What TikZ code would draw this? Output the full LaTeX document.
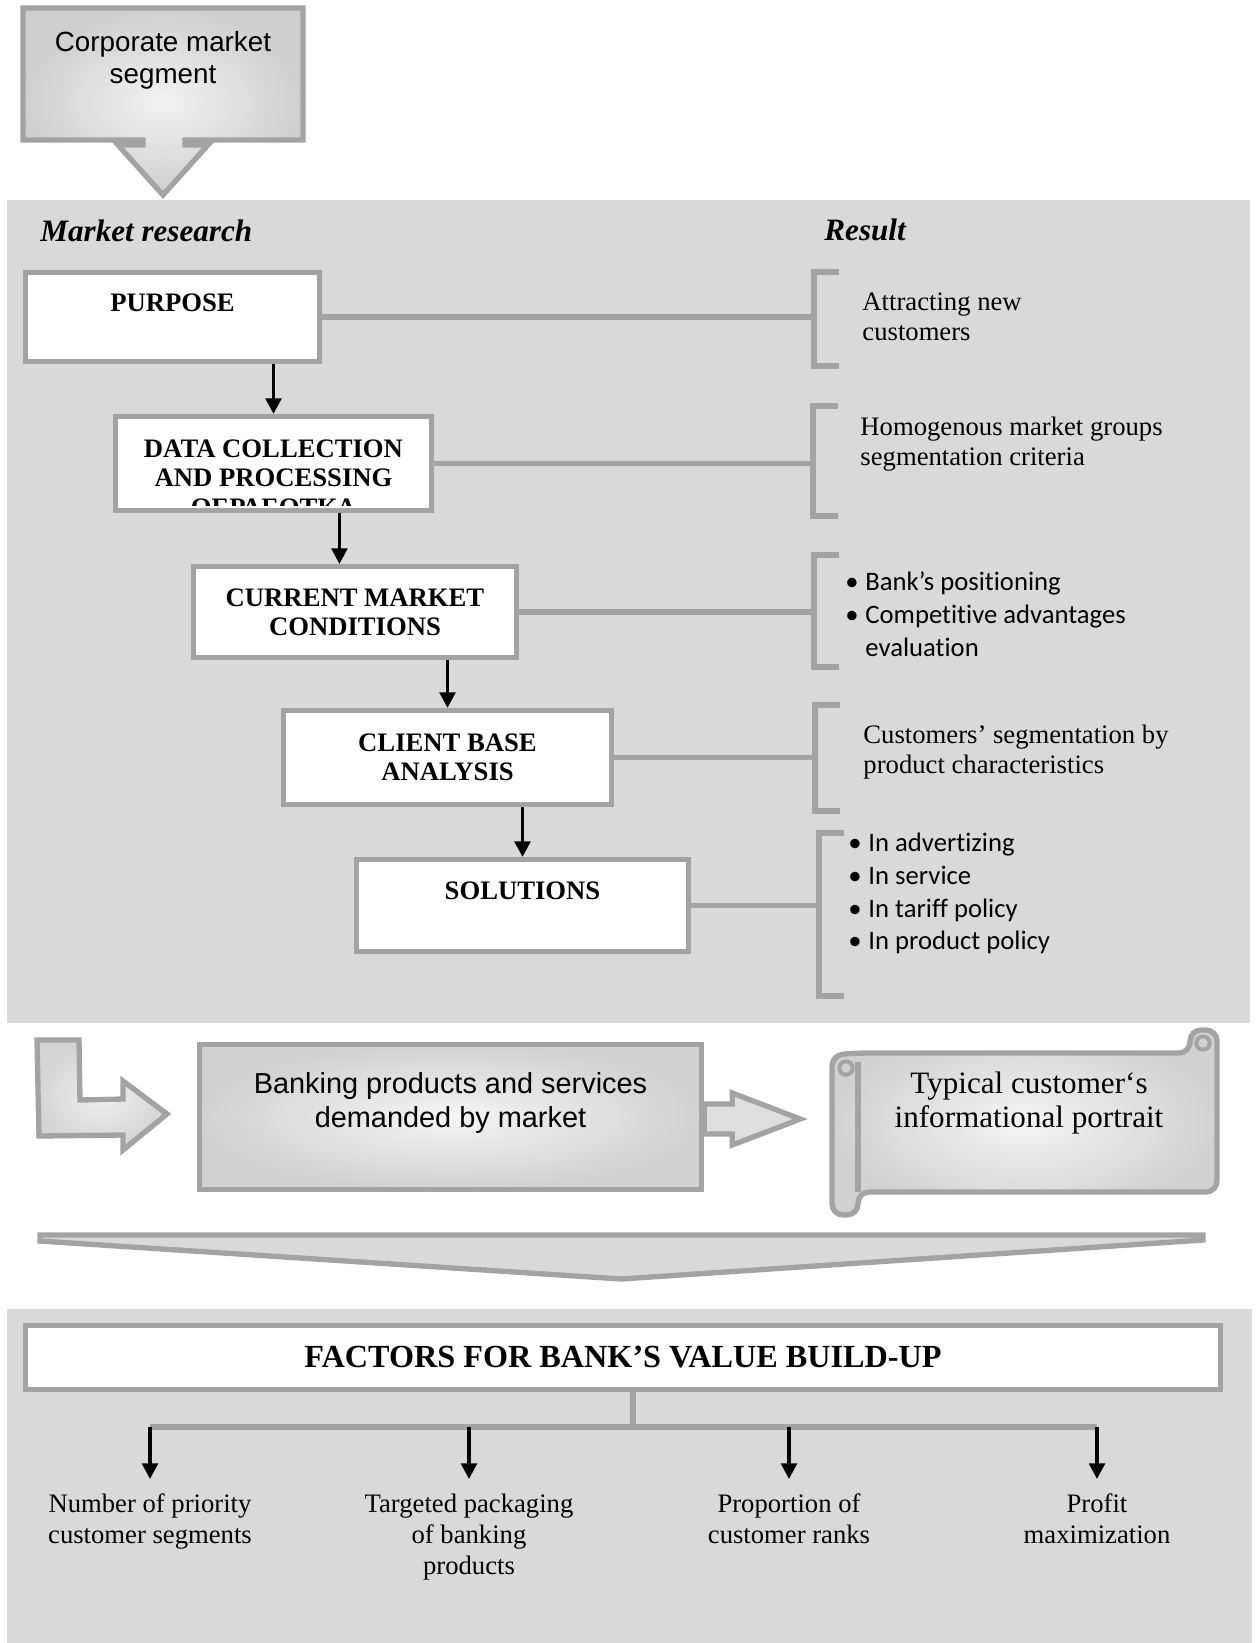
\documentclass[tikz,border=0pt]{standalone}
\usepackage{fontspec}
\setmainfont{Liberation Serif}
\newfontfamily\arialfont{Liberation Sans}
\newfontfamily\calibrifont[Ligatures=NoCommon]{Carlito}
\usetikzlibrary{
  arrows.meta,
  calc
}
\definecolor{panelgray}{gray}{0.85}
\definecolor{edgegray}{gray}{0.64}
\newcommand{\bulletitem}{\makebox[9pt][l]{•}}

\begin{document}
\begin{tikzpicture}[x=0.45pt, y=-0.45pt,
    stepbox/.style={draw=edgegray, line width=2.4pt, fill=white, align=center,
        inner sep=0pt, font=\fontsize{12}{13}\selectfont\bfseries},
    link/.style={draw=edgegray, line width=2.4pt},
    shapeline/.style={draw=edgegray, line width=2.4pt, line join=miter},
    flow/.style={-{Triangle[length=7pt,width=7pt]}, line width=1.6pt},
    heading/.style={anchor=west, inner sep=0pt,
        font=\fontsize{14}{16}\selectfont\bfseries\itshape},
    result/.style={anchor=west, align=left, inner sep=0pt,
        font=\fontsize{12}{13.5}\selectfont},
    bullets/.style={anchor=west, align=left, inner sep=0pt,
        font=\calibrifont\fontsize{12}{14.8}\selectfont},
    factor/.style={anchor=north, align=center, inner sep=6.5pt,
        font=\fontsize{12}{14}\selectfont}]
  \useasboundingbox (0,0) rectangle (1257,1643);

  % grey panels
  \fill[panelgray] (7,200) rectangle (1250,1023);
  \fill[panelgray] (7,1309) rectangle (1252,1643);

  % corporate market segment
  \path[shapeline, inner color=black!5, outer color=black!19]
  (23,8) -- (303,8) -- (303,140) -- (185,140) -- (185,145) -- (208,145)
  -- (163,195) -- (118,145) -- (143,145) -- (143,140) -- (23,140) -- cycle;
  \node[align=center, font=\arialfont\fontsize{12.5}{14.4}\selectfont] (corp)
  at (163,60) {Corporate market\\segment};

  \node[heading] (research) at (40,231) {Market research};
  \node[heading] (result) at (824,230) {Result};

  % research steps
  \node[stepbox, minimum width=132.2pt, minimum height=39.9pt] (purpose)
  at (172.5,317) {PURPOSE\\~};
  \node[stepbox, minimum width=142.1pt, minimum height=42.2pt] (data)
  at (273.5,463.5) {DATA COLLECTION\\AND PROCESSING};
  \begin{scope}
    \clip (116,417) rectangle (431,505);
    \node[anchor=base, font=\fontsize{12}{13}\selectfont\bfseries] (datacut)
    at (273.5,516) {ОБРАБОТКА};
  \end{scope}
  \node[stepbox, minimum width=145.2pt, minimum height=40.8pt] (current)
  at (355,612) {CURRENT MARKET\\CONDITIONS};
  \node[stepbox, minimum width=147.5pt, minimum height=42.2pt] (client)
  at (447.5,757.5) {CLIENT BASE\\ANALYSIS};
  \node[stepbox, minimum width=149.3pt, minimum height=41.3pt] (solutions)
  at (522.5,905.5) {SOLUTIONS\\~};

  \coordinate (a2) at ([xshift=-7pt]current.north);
  \draw[flow] (data.north |- purpose.south) -- (data.north);
  \draw[flow] (a2 |- data.south) -- (a2);
  \draw[flow] (client.north |- current.south) -- (client.north);
  \draw[flow] (solutions.north |- client.south) -- (solutions.north);

  % brackets of the results
  \foreach \n/\x/\t/\b in {1/814/272/366, 2/813/406/516, 3/814/555/667,
      4/815/705/811, 5/819/833/996} {
      \draw[link] (\x+25,\t) -| (\x,\b) -- ++(25,0);
      \coordinate (br\n) at (\x,\t);
    }
  \foreach \stage/\n in {purpose/1, data/2, current/3, client/4, solutions/5} {
      \draw[link] (\stage.east) -- (\stage.east -| br\n);
    }

  \node[result] (res1) at (862,317) {Attracting new\\customers};
  \node[result] (res2) at (860,444) {Homogenous market groups\\segmentation criteria};
  \node[bullets] (res3) at (845,614.5) {\bulletitem Bank’s positioning\\
    \bulletitem Competitive advantages\\\hspace*{9pt}evaluation};
  \node[result] (res4) at (863,752) {Customers’ segmentation by\\product characteristics};
  \node[bullets] (res5) at (848,893.5) {\bulletitem In advertizing\\
    \bulletitem In service\\\bulletitem In tariff policy\\\bulletitem In product policy};

  % products, portrait
  \path[shapeline, inner color=black!6, outer color=black!17]
  (37,1040) -- (79,1040) -- (80,1100) -- (123,1099) -- (123,1081) -- (167,1114)
  -- (123,1150) -- (123,1135) -- (39,1136) -- cycle;

  \node[draw=edgegray, line width=2.4pt, inner color=black!4, outer color=black!18,
    minimum width=226pt, minimum height=65pt, align=center,
    font=\arialfont\fontsize{13}{15.3}\selectfont] (banking)
  at (450.5,1117) {Banking products and services\\demanded by market\\~};

  \coordinate (bk) at ($(banking.east)+(0,2)$);
  \path[shapeline, fill=black!13] (bk) ++(0,-15) -- ++(28,0) -- ++(0,-11)
  -- ++(68,26) -- ++(-68,26) -- ++(0,-11) -- ++(-28,0) -- cycle;

  \path[shapeline, inner color=black!4, outer color=black!18, rounded corners=5pt]
  (858,1053) -- (1190,1053) -- (1190,1030) -- (1217,1030) -- (1217,1192)
  -- (858,1192) -- (858,1215) -- (832,1215) -- (832,1055) -- cycle;
  \draw[shapeline] (858,1062) -- (858,1192);
  \draw[shapeline, line width=1.8pt] (846,1068) circle[radius=3pt];
  \draw[shapeline, line width=1.8pt] (1203,1043) circle[radius=3pt];
  \node[align=center, font=\fontsize{14}{15.5}\selectfont] (portrait)
  at (1029,1103) {Typical customer‘s\\informational portrait};

  \path[shapeline, fill=panelgray]
  (40,1235) -- (1203,1235) -- (1203,1240) -- (621,1279) -- (40,1241) -- cycle;

  % factors
  \node[stepbox, minimum width=537.6pt, minimum height=28.7pt,
    font=\fontsize{14.5}{17}\selectfont\bfseries] (factors)
  at (623,1357.5) {FACTORS FOR BANK’S VALUE BUILD-UP};

  \coordinate (hub) at (633,1427);
  \foreach \n/\x/\txt in {1/150/{Number of priority\\customer segments},
      2/469/{Targeted packaging\\of banking\\products},
      3/789/{Proportion of\\customer ranks}, 4/1097/{Profit\\maximization}} {
      \node[factor] (f\n) at (\x,1479) {\txt};
    }
  \draw[link] (factors.south -| hub) -- (hub);
  \draw[link] (f1.north |- hub) -- (f4.north |- hub);
  \foreach \n in {1,...,4} {
      \draw[flow] (f\n.north |- hub) -- (f\n.north);
    }
\end{tikzpicture}
\end{document}
